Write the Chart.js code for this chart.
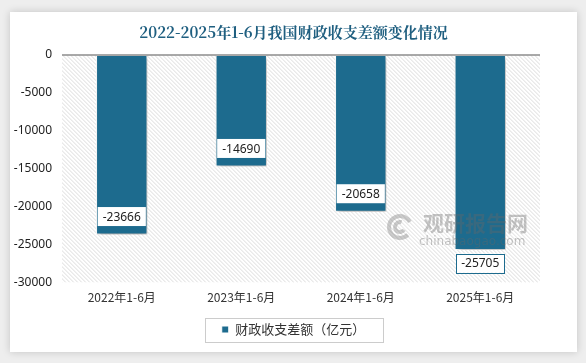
<!DOCTYPE html>
<html>
<head>
<meta charset="utf-8">
<script src="https://cdn.jsdelivr.net/npm/chart.js@4.4.1/dist/chart.umd.min.js"></script>
<style>
    html, body { margin: 0; padding: 0; }
    body { width: 586px; height: 363px; background: #eeeeee; position: relative; overflow: hidden; }
    .card {
        position: absolute; left: 10px; top: 12px; width: 567px; height: 340px;
        background: #ffffff; box-shadow: 0 0 8px rgba(0,0,0,0.18);
    }
    canvas { display: block; }
</style>
</head>
<body>
<div class="card"><canvas id="chart" width="567" height="340"></canvas></div>
<script>
// data
const periods = ["2022年1-6月", "2023年1-6月", "2024年1-6月", "2025年1-6月"];
const balance = [-23666, -14690, -20658, -25705];
const seriesName = "财政收支差额（亿元）";
const titleText = "2022-2025年1-6月我国财政收支差额变化情况";

const barColor = "#1d6b8e";
const cjk = "'Noto Sans CJK SC', 'Noto Sans', sans-serif";

// hatched plot background + zero line
const plotBackground = {
    id: "plotBackground",
    beforeDatasetsDraw(chart) {
        const { ctx, chartArea: a } = chart;
        ctx.save();
        ctx.beginPath();
        ctx.rect(a.left, a.top, a.right - a.left, a.bottom - a.top);
        ctx.clip();
        ctx.strokeStyle = "#dcdcdc";
        ctx.lineWidth = 1;
        const h = a.bottom - a.top;
        for (let x = a.left - h; x < a.right; x += 4) {
            ctx.beginPath();
            ctx.moveTo(x, a.top);
            ctx.lineTo(x + h, a.bottom);
            ctx.stroke();
        }
        ctx.restore();

        // shadow for bars
        ctx.save();
        ctx.shadowColor = "rgba(0,0,0,0.35)";
        ctx.shadowBlur = 5;
        ctx.shadowOffsetX = 2;
        ctx.shadowOffsetY = 2;
    },
    afterDatasetsDraw(chart) {
        const { ctx, chartArea: a } = chart;
        ctx.restore();
        ctx.save();
        ctx.strokeStyle = "#8c8c8c";
        ctx.lineWidth = 1.5;
        ctx.beginPath();
        ctx.moveTo(a.left, a.top);
        ctx.lineTo(a.right, a.top);
        ctx.stroke();
        ctx.restore();

        // watermark, over the bars
        ctx.save();
        ctx.globalAlpha = 0.38;
        ctx.fillStyle = "#666";
        ctx.font = "bold 21px " + cjk;
        ctx.textAlign = "left";
        ctx.textBaseline = "alphabetic";
        ctx.fillText("观研报告网", 413, 219);
        ctx.font = "12px 'DejaVu Sans', sans-serif";
        ctx.fillText("chinabaogao.com", 409, 233);
        ctx.lineWidth = 4;
        ctx.strokeStyle = "#777";
        ctx.beginPath();
        ctx.arc(390, 215, 11, 0.25 * Math.PI, 1.85 * Math.PI);
        ctx.stroke();
        ctx.beginPath();
        ctx.arc(390, 215, 5, 0.2 * Math.PI, 1.6 * Math.PI);
        ctx.stroke();
        ctx.restore();
    }
};

// value boxes near bar ends
const labelOffsets = [-18, -18, -18, 13];
const valueLabels = {
    id: "valueLabels",
    afterDatasetsDraw(chart) {
        const { ctx } = chart;
        const meta = chart.getDatasetMeta(0);
        ctx.save();
        ctx.font = "12px 'Noto Sans', sans-serif";
        ctx.textAlign = "center";
        ctx.textBaseline = "middle";
        meta.data.forEach((bar, i) => {
            const text = String(balance[i]);
            const w = ctx.measureText(text).width + 10;
            const h = 19;
            const cx = bar.x;
            const cy = bar.y + labelOffsets[i];
            ctx.fillStyle = "#ffffff";
            ctx.fillRect(cx - w / 2, cy - h / 2, w, h);
            if (labelOffsets[i] > 0) {
                ctx.strokeStyle = barColor;
                ctx.lineWidth = 1;
                ctx.strokeRect(Math.round(cx - w / 2) + 0.5, Math.round(cy - h / 2) + 0.5, Math.round(w), h);
            }
            ctx.fillStyle = "#222";
            ctx.fillText(text, cx, cy + 1);
        });
        ctx.restore();
    }
};

// frame around the legend item
const legendFrame = {
    id: "legendFrame",
    afterDraw(chart) {
        const boxes = chart.legend && chart.legend.legendHitBoxes;
        if (!boxes || !boxes.length) return;
        const b = boxes[0];
        const { ctx } = chart;
        ctx.save();
        ctx.strokeStyle = "#cccccc";
        ctx.lineWidth = 1;
        ctx.strokeRect(Math.round(b.left - 17) + 0.5, Math.round(b.top + b.height / 2 - 12) + 0.5, Math.round(b.width + 34), 24);
        ctx.restore();
    }
};

new Chart(document.getElementById("chart"), {
    type: "bar",
    data: {
        labels: periods,
        datasets: [{
            label: seriesName,
            data: balance,
            backgroundColor: barColor,
            borderColor: "#ffffff",
            borderWidth: 1,
            borderSkipped: false,
            barPercentage: 0.43,
            categoryPercentage: 1
        }]
    },
    options: {
        responsive: false,
        animation: false,
        layout: { padding: { top: 0, right: 0, bottom: 6, left: 0 } },
        plugins: {
            title: {
                display: true,
                text: titleText,
                color: "#1f5f80",
                font: { family: "'Noto Serif CJK SC', 'DejaVu Serif', serif", size: 15, weight: "bold" },
                padding: { top: 11, bottom: 14 }
            },
            legend: {
                position: "bottom",
                labels: {
                    color: "#333",
                    font: { family: cjk, size: 13 },
                    boxWidth: 7,
                    boxHeight: 7,
                    padding: 10
                }
            },
            tooltip: { enabled: false }
        },
        scales: {
            x: {
                grid: { display: false, drawTicks: false },
                border: { display: false },
                ticks: { color: "#333", font: { family: cjk, size: 12 }, padding: 8 }
            },
            y: {
                min: -30000,
                max: 0,
                afterFit(scale) { scale.width = 52; },
                grid: { display: false, drawTicks: false },
                border: { display: false },
                ticks: {
                    stepSize: 5000,
                    color: "#222",
                    font: { family: "'Noto Sans', sans-serif", size: 12 },
                    padding: 10,
                    callback: (v) => String(v)
                }
            },
            // empty right-hand axis that only reserves space
            yRight: {
                position: "right",
                min: -30000,
                max: 0,
                afterFit(scale) { scale.width = 37; },
                grid: { display: false, drawTicks: false },
                border: { display: false },
                ticks: { display: false }
            }
        }
    },
    plugins: [plotBackground, valueLabels, legendFrame]
});
</script>
</body>
</html>
